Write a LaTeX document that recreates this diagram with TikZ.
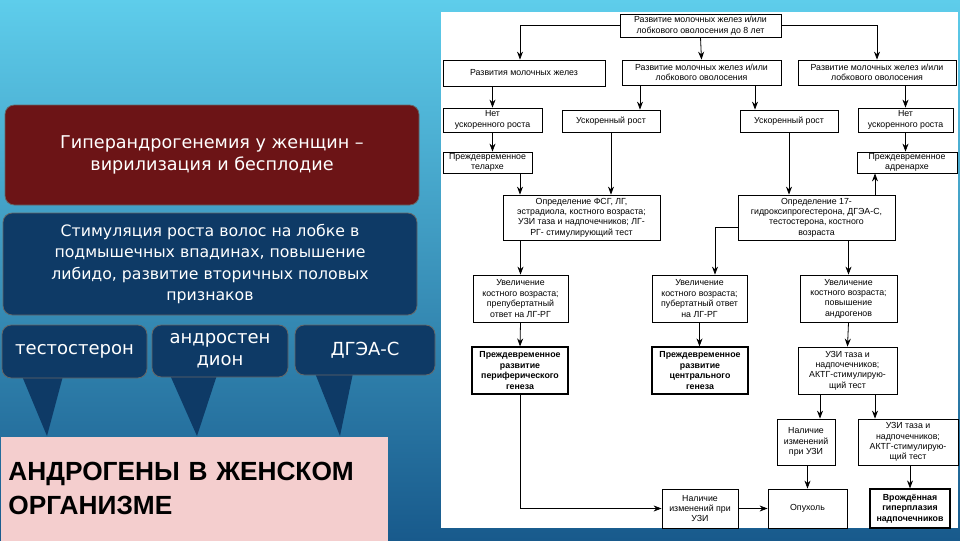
\documentclass[tikz,border=0pt]{standalone}
\usepackage{fontspec}
\setmainfont{DejaVu Sans}
\newfontfamily\chartfont{Liberation Sans}
\usetikzlibrary{arrows.meta}

\definecolor{bgtop}{RGB}{94,205,235}
\definecolor{bgmid}{RGB}{50,145,198}
\definecolor{bgbot}{RGB}{24,90,140}
\definecolor{darkred}{RGB}{108,20,22}
\definecolor{navy}{RGB}{14,58,102}
\definecolor{pinkbox}{RGB}{244,206,206}

\tikzset{every picture/.style={line width=0.75pt}}
\tikzset{
  chart/.style={draw, line width=0.6pt, align=center, inner sep=0.5pt, font=\chartfont\fontsize{6.6}{7.8}\selectfont},
  chartb/.style={chart, line width=0.9pt, font=\chartfont\bfseries\fontsize{6.6}{7.8}\selectfont},
  wh/.style 2 args={minimum width=#1*0.75pt, minimum height=#2*0.75pt},
  arr/.style={line width=0.6pt, -{Stealth[length=6pt,width=4.5pt]}},
  slide/.style={rounded corners=7pt, draw=black!60, line width=0.6pt, text=white, align=center, inner sep=1pt},
}

\begin{document}
\begin{tikzpicture}[x=0.75pt,y=0.75pt,yscale=-1,xscale=1]
\useasboundingbox (0,0) rectangle (960,540);

%Shape: Background
\shade[top color=bgtop, middle color=bgmid, bottom color=bgbot] (0,0) rectangle (960,540);

%Shape: Rounded boxes, left
\node[slide, fill=darkred, wh={414}{100}, font=\fontsize{13.2}{16.5}\selectfont] (hyper) at (212,155)
  {Гиперандрогенемия у женщин --\\вирилизация и бесплодие};
\node[slide, fill=navy, wh={414}{102}, font=\fontsize{11.8}{16}\selectfont] (stim) at (210,264)
  {Стимуляция роста волос на лобке в\\подмышечных впадинах, повышение\\либидо, развитие вторичных половых\\признаков};

%Shape: Callouts
\fill[navy] (22,376) -- (47,436) -- (63,376) -- cycle;
\fill[navy] (170,375) -- (197,436) -- (217,375) -- cycle;
\fill[navy] (315,373) -- (340,436) -- (353,373) -- cycle;
\node[slide, fill=navy, wh={145}{53}, font=\fontsize{13.5}{16.5}\selectfont] (testo) at (74.5,351.5) {тестостерон};
\node[slide, fill=navy, wh={136}{52}, font=\fontsize{13.5}{16.5}\selectfont] (andro) at (220,351) {андростен\\дион};
\node[slide, fill=navy, wh={140}{50}, font=\fontsize{13.5}{16.5}\selectfont] (dhea) at (365,350) {ДГЭА-С};

%Shape: Title
\node[fill=pinkbox, anchor=north west, align=left, text width=371*0.75pt, inner xsep=8*0.75pt, minimum height=104*0.75pt,
  font=\chartfont\bfseries\fontsize{19.7}{26}\selectfont] (title) at (0,436) {АНДРОГЕНЫ В ЖЕНСКОМ\\ОРГАНИЗМЕ};

%Shape: Chart sheet
\fill[white] (441,12) rectangle (958,528);

%Chart boxes
\node[chart, wh={161}{23}] (top) at (700.5,25.5) {Развитие молочных желез и/или\\лобкового оволосения до 8 лет};
\node[chart, wh={162}{26}] (l2a) at (524,73) {Развития молочных желез};
\node[chart, wh={159}{25}] (l2b) at (701.5,72.5) {Развитие молочных желез и/или\\лобкового оволосения};
\node[chart, wh={158}{25}] (l2c) at (877,72.5) {Развитие молочных желез и/или\\лобкового оволосения};
\node[chart, wh={99}{24}] (nogrow1) at (492.5,120) {Нет\\ускоренного роста};
\node[chart, wh={98}{22}] (fast1) at (611,121) {Ускоренный рост};
\node[chart, wh={98}{22}] (fast2) at (789,121) {Ускоренный рост};
\node[chart, wh={95}{24}] (nogrow2) at (905.5,120) {Нет\\ускоренного роста};
\node[chart, wh={89}{21}] (telarche) at (487.5,162.5) {Преждевременное\\телархе};
\node[chart, wh={100}{21}] (adrenarche) at (907,162.5) {Преждевременное\\адренархе};
\node[chart, wh={157}{45}] (fsg) at (581.5,217.5) {Определение ФСГ, ЛГ,\\эстрадиола, костного возраста;\\УЗИ таза и надпочечников; ЛГ-\\РГ- стимулирующий тест};
\node[chart, wh={157}{45}] (opr17) at (816.5,217.5) {Определение 17-\\гидроксипрогестерона, ДГЭА-С,\\тестостерона, костного\\возраста};
\node[chart, wh={95}{47}] (bone1) at (520.5,298.5) {Увеличение\\костного возраста;\\препубертатный\\ответ на ЛГ-РГ};
\node[chart, wh={95}{47}] (bone2) at (699.5,298.5) {Увеличение\\костного возраста;\\пубертатный ответ\\на ЛГ-РГ};
\node[chart, wh={97}{47}] (bone3) at (848.5,298.5) {Увеличение\\костного возраста;\\повышение\\андрогенов};
\node[chartb, wh={96}{47}] (periph) at (520,370.5) {Преждевременное\\развитие\\периферического\\генеза};
\node[chartb, wh={96}{47}] (central) at (700,370.5) {Преждевременное\\развитие\\центрального\\генеза};
\node[chart, wh={99}{47}] (uzi1) at (847.5,370.5) {УЗИ таза и\\надпочечников;\\АКТГ-стимулирую-\\щий тест};
\node[chart, wh={58}{46}] (change1) at (806,442) {Наличие\\изменений\\при УЗИ};
\node[chart, wh={100}{46}] (uzi2) at (908,442) {УЗИ таза и\\надпочечников;\\АКТГ-стимулирую-\\щий тест};
\node[chart, wh={76}{39}] (change2) at (700,508.5) {Наличие\\изменений при\\УЗИ};
\node[chart, wh={79}{39}] (tumor) at (807.5,508.5) {Опухоль};
\node[chartb, wh={80}{39}] (chg) at (910,508.5) {Врождённая\\гиперплазия\\надпочечников};

%Arrow tracks
\coordinate (k1) at (640,0);
\coordinate (k2) at (755,0);
\coordinate (k3) at (520,0);
\coordinate (k4) at (875,0);
\coordinate (k5) at (715,227);
\coordinate (k6) at (820,0);

%Straight Lines
\draw[arr] (top.west) -| (k3 |- l2a.north);
\draw[arr] (top.south) -- (l2b.north);
\draw[arr] (top.east) -| (l2c.north);
\draw[arr] (nogrow1.north |- l2a.south) -- (nogrow1.north);
\draw[arr] (k1 |- l2b.south) -- (k1 |- fast1.north);
\draw[arr] (k2 |- l2b.south) -- (k2 |- fast2.north);
\draw[arr] (nogrow2.north |- l2c.south) -- (nogrow2.north);
\draw[arr] (nogrow1.south) -- (nogrow1.south |- telarche.north);
\draw[arr] (nogrow2.south) -- (nogrow2.south |- adrenarche.north);
\draw[arr] (k3 |- telarche.south) -- (k3 |- fsg.north);
\draw[arr] (fast1.south) -- (fast1.south |- fsg.north);
\draw[arr] (fast2.south) -- (fast2.south |- opr17.north);
\draw[arr] (k4 |- opr17.north) -- (k4 |- adrenarche.south);
\draw[arr] (opr17.west |- k5) -- (k5) -- (k5 |- bone2.north);
\draw[arr] (bone3.north |- opr17.south) -- (bone3.north);
\draw[arr] (bone1.north |- fsg.south) -- (bone1.north);
\draw[arr] (bone1.south) -- (periph.north);
\draw[arr] (bone2.south) -- (bone2.south |- central.north);
\draw[arr] (bone3.south) -- (uzi1.north);
\draw[arr] (k6 |- uzi1.south) -- (k6 |- change1.north);
\draw[arr] (k4 |- uzi1.south) -- (k4 |- uzi2.north);
\draw[arr] (periph.south) |- (change2.west);
\draw[arr] (change2.east) -- (tumor.west);
\draw[arr] (tumor.north |- change1.south) -- (tumor.north);
\draw[arr] (chg.north |- uzi2.south) -- (chg.north);

\end{tikzpicture}
\end{document}
